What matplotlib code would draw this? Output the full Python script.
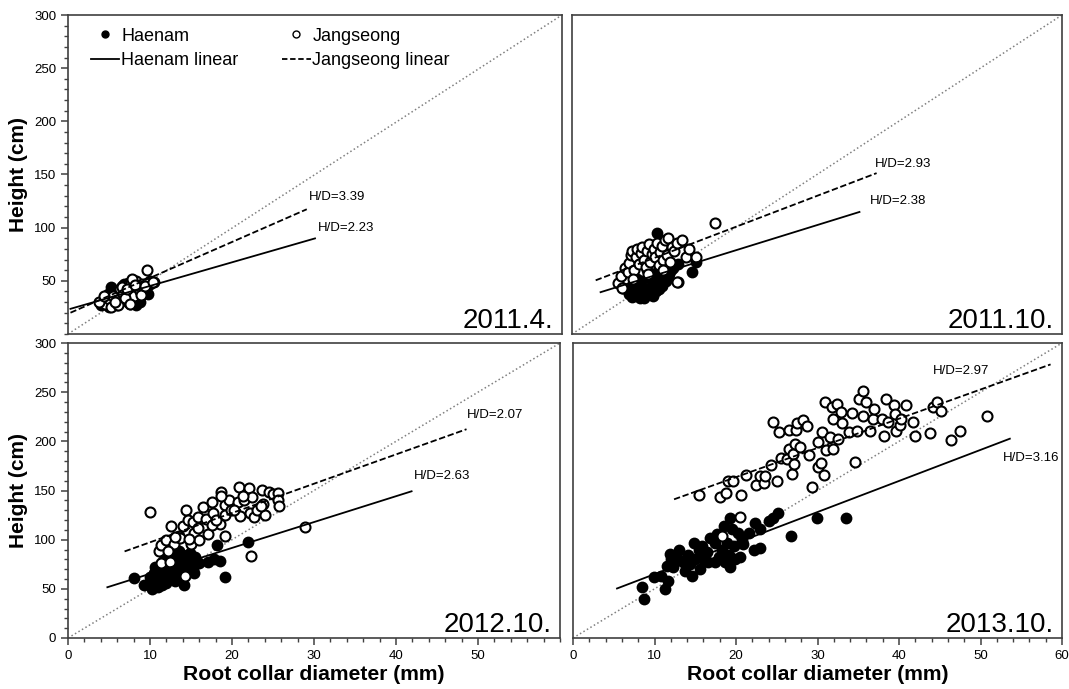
import matplotlib.pyplot as plt
import numpy as np
from matplotlib.lines import Line2D

plt.rcParams['font.family'] = ['Liberation Sans', 'DejaVu Sans']

# 2011.4.
h11a_x = [5.0, 5.5, 6.0, 6.2, 6.5, 6.8, 7.0, 7.2, 7.5, 7.8, 8.0, 8.3, 8.5, 8.8, 9.0,
          9.2, 9.5, 10.0, 10.5, 6.0, 6.5, 7.0, 7.5, 8.0, 8.5, 9.0, 5.8, 7.3, 8.2, 9.7,
          4.0, 4.6, 5.2, 4.8]
h11a_y = [25, 28, 30, 40, 45, 47, 33, 38, 42, 30, 35, 32, 45, 30, 38,
          40, 42, 47, 49, 27, 35, 43, 28, 40, 33, 45, 32, 48, 27, 38,
          27, 33, 44, 38]
j11a_x = [4.5, 5.0, 5.5, 6.0, 6.3, 6.7, 7.0, 7.3, 7.6, 8.0, 8.3, 8.6, 9.0, 9.3, 9.6,
          10.0, 5.2, 6.1, 6.9, 7.8, 8.7, 9.6, 5.7, 7.5, 8.9, 6.5, 7.2, 8.1, 9.4, 10.3,
          3.8, 4.4]
j11a_y = [28, 33, 36, 32, 42, 38, 45, 30, 48, 36, 50, 42, 47, 44, 60,
          50, 25, 27, 34, 52, 40, 48, 30, 28, 37, 44, 42, 46, 45, 49,
          30, 36]

# 2011.10.
h11b_x = [7.0, 7.3, 7.6, 7.9, 8.2, 8.5, 8.8, 9.1, 9.4, 9.7, 10.0, 10.3, 10.6, 10.9, 11.2,
          11.5, 11.8, 12.1, 12.4, 7.5, 8.0, 8.6, 9.2, 9.8, 10.4, 11.0, 11.6, 12.2, 8.3, 9.5,
          10.7, 11.9, 10.4, 14.7, 15.2, 8.8, 9.9, 13.0]
h11b_y = [38, 35, 45, 40, 36, 50, 42, 38, 55, 44, 48, 40, 52, 46, 58,
          50, 55, 60, 62, 48, 52, 44, 60, 50, 58, 45, 62, 65, 34, 38,
          42, 56, 95, 58, 68, 34, 36, 66]
j11b_x = [5.6, 6.0, 6.2, 6.5, 6.8, 7.0, 7.2, 7.4, 7.6, 7.8, 8.0, 8.2, 8.4, 8.6, 8.8,
          9.0, 9.2, 9.4, 9.6, 9.8, 10.0, 10.2, 10.4, 10.6, 10.8, 11.0, 11.2, 11.4, 11.6, 11.8,
          12.0, 12.2, 12.5, 12.8, 13.0, 13.5, 14.0, 14.3, 15.2, 17.5, 6.1, 12.9, 7.5, 9.3, 11.1]
j11b_y = [48, 55, 43, 62, 58, 67, 74, 78, 60, 72, 80, 66, 76, 82, 70,
          63, 78, 85, 68, 75, 80, 72, 86, 65, 77, 83, 70, 88, 74, 90,
          68, 82, 78, 86, 49, 88, 72, 80, 72, 104, 43, 49, 52, 56, 60]

# 2012.10.
h12_x = [8.0, 9.3, 9.7, 10.0, 10.2, 10.5, 10.8, 11.0, 11.2, 11.4, 11.6, 11.8, 12.0, 12.2, 12.4,
         12.6, 12.8, 13.0, 13.2, 13.4, 13.6, 13.8, 14.0, 14.1, 14.3, 14.5, 14.7, 14.9, 15.1, 15.3,
         15.5, 10.6, 11.5, 12.3, 13.1, 13.9, 14.6, 15.4, 16.0, 17.1, 17.8, 18.2, 18.5, 19.1, 22.0,
         10.4, 11.9, 12.9, 13.5, 14.2]
h12_y = [61, 54, 55, 62, 50, 66, 58, 52, 72, 60, 78, 66, 56, 70, 82,
         62, 74, 58, 86, 68, 78, 64, 84, 54, 72, 80, 68, 86, 76, 70,
         82, 72, 54, 64, 76, 60, 74, 66, 76, 77, 80, 95, 78, 62, 98,
         56, 84, 68, 88, 80]
j12_x = [10.0, 11.1, 11.3, 11.9, 12.5, 12.9, 13.5, 14.0, 14.4, 14.6, 15.0, 15.3, 15.4, 15.8, 16.5,
         16.8, 17.1, 17.6, 17.7, 18.5, 18.7, 19.1, 19.2, 19.2, 19.6, 20.8, 20.7, 21.0, 21.5, 22.1,
         22.2, 22.5, 22.7, 23.0, 23.6, 23.8, 24.0, 24.5, 25.0, 25.6, 25.6, 25.7, 22.3, 28.9, 14.3,
         11.3, 12.4, 13.6, 16.0, 17.5, 18.6, 19.9, 21.3, 23.5, 20.2, 14.8, 13.0, 12.2, 15.9, 18.1]
j12_y = [128, 88, 95, 100, 114, 96, 104, 114, 130, 120, 96, 118, 107, 123, 133,
         121, 106, 138, 127, 116, 148, 135, 104, 125, 140, 154, 138, 124, 140, 153,
         127, 143, 123, 130, 151, 136, 125, 148, 146, 147, 140, 134, 83, 113, 63,
         76, 77, 102, 100, 115, 144, 130, 144, 134, 130, 101, 103, 88, 112, 120]

# 2013.10.
h13_x = [8.5, 8.7, 9.9, 10.8, 11.3, 11.6, 11.5, 11.9, 12.0, 12.3, 12.9, 13.0, 13.5, 13.8, 14.1,
         14.4, 14.6, 14.8, 15.0, 15.4, 15.6, 16.0, 16.4, 16.6, 16.8, 17.4, 17.7, 17.9, 18.3, 18.5,
         18.7, 18.9, 19.3, 19.3, 19.5, 19.7, 19.9, 20.3, 20.5, 20.9, 21.6, 22.2, 22.3, 23.0, 22.9,
         24.0, 24.5, 25.1, 26.7, 29.9, 33.5, 20.7, 19.1, 17.4, 15.8]
h13_y = [52, 40, 62, 63, 50, 58, 73, 85, 80, 72, 80, 90, 77, 68, 84,
         75, 63, 97, 80, 89, 70, 80, 87, 77, 102, 97, 106, 82, 90, 114,
         77, 97, 72, 122, 111, 94, 80, 107, 82, 96, 107, 90, 117, 92, 111,
         119, 122, 127, 104, 122, 122, 100, 84, 77, 94]
j13_x = [15.5, 18.0, 18.8, 19.0, 19.6, 20.6, 21.2, 22.5, 23.0, 23.4, 23.5, 24.5, 25.0, 24.3, 25.3,
         25.5, 26.2, 26.5, 26.5, 26.9, 27.0, 27.1, 27.3, 27.4, 27.5, 27.8, 28.2, 28.7, 29.0, 29.3,
         30.1, 30.1, 30.4, 30.5, 30.8, 30.9, 31.1, 31.5, 31.8, 31.9, 31.9, 32.4, 32.5, 32.9, 33.0,
         33.9, 34.2, 34.6, 34.9, 35.1, 35.6, 35.6, 35.9, 36.4, 36.8, 36.9, 37.9, 38.1, 38.4, 38.7,
         39.4, 39.5, 39.6, 40.1, 40.2, 40.9, 41.7, 42.0, 43.8, 44.2, 44.7, 45.2, 46.4, 47.5, 50.8,
         20.5, 18.3]
j13_y = [145, 143, 147, 160, 160, 145, 166, 156, 165, 158, 165, 220, 160, 176, 210,
         183, 182, 212, 192, 167, 187, 177, 197, 212, 219, 194, 222, 216, 186, 154,
         199, 174, 178, 210, 166, 240, 191, 204, 235, 223, 192, 238, 202, 230, 219,
         209, 229, 179, 211, 243, 251, 226, 240, 211, 223, 233, 223, 205, 243, 220,
         237, 228, 211, 217, 223, 237, 220, 205, 208, 235, 240, 231, 201, 211, 226,
         123, 104]

# lineas ajustadas: intercepto, pendiente, x inicio, x fin
h_fit = [(23, 2.23, 0.3, 30.0), (31, 2.38, 3.5, 35.2), (39, 2.63, 4.8, 41.9), (33.3, 3.16, 5.4, 53.6)]
j_fit = [(19, 3.39, 0.3, 29.0), (42, 2.93, 2.9, 37.3), (67.5, 2.98, 6.9, 48.6), (104.2, 2.97, 12.4, 58.6)]

# etiquetas H/D: texto, x, y
h_lab = [('H/D=2.23', 30.3, 100), ('H/D=2.38', 36.5, 125), ('H/D=2.63', 42.2, 165), ('H/D=3.16', 52.8, 183)]
j_lab = [('H/D=3.39', 29.3, 129), ('H/D=2.93', 37.1, 160), ('H/D=2.07', 48.6, 227), ('H/D=2.97', 44.2, 272)]

fechas = ['2011.4.', '2011.10.', '2012.10.', '2013.10.']
puntos = [(h11a_x, h11a_y, j11a_x, j11a_y), (h11b_x, h11b_y, j11b_x, j11b_y),
          (h12_x, h12_y, j12_x, j12_y), (h13_x, h13_y, j13_x, j13_y)]

fig = plt.figure(figsize=(10.69, 6.89), dpi=100)
W, H = 1069, 689
# posiciones de los paneles en pixeles (izq, der, arriba, abajo)
cajas = [(68, 562, 15, 334), (572, 1062, 15, 334), (68, 560, 343, 638), (573, 1062, 343, 638)]
axes = []
for (l, r, t, b) in cajas:
    axes.append(fig.add_axes([l / W, (H - b) / H, (r - l) / W, (b - t) / H]))

for i, ax in enumerate(axes):
    hx, hy, jx, jy = puntos[i]
    ax.plot([0, 60], [0, 300], color='gray', ls=':', lw=1.1, zorder=1)
    ax.plot(hx, hy, 'o', ms=7.2, mfc='black', mec='black', mew=1.3, ls='none', zorder=2)
    ax.plot(jx, jy, 'o', ms=7.2, mfc='white', mec='black', mew=1.5, ls='none', zorder=3)
    a, b, x0, x1 = h_fit[i]
    xs = np.array([x0, x1])
    ax.plot(xs, a + b * xs, color='black', lw=1.3, zorder=4)
    a, b, x0, x1 = j_fit[i]
    xs = np.array([x0, x1])
    ax.plot(xs, a + b * xs, color='black', lw=1.3, ls=(0, (3.5, 1.5)), zorder=4)
    for txt, tx, ty in [h_lab[i], j_lab[i]]:
        ax.text(tx, ty, txt, fontsize=9.5, ha='left', va='center')
    ax.text(0.983, 0.02, fechas[i], transform=ax.transAxes, fontsize=20,
            ha='right', va='baseline')
    ax.set_xlim(0, 60)
    ax.set_ylim(0, 300)
    for s in ax.spines.values():
        s.set_color('#404040')
        s.set_linewidth(1.2)
    ax.set_xticks(np.arange(0, 61, 10))
    ax.set_xticks(np.arange(0, 61, 2), minor=True)
    ax.set_yticks(np.arange(0, 301, 50))
    ax.set_yticks(np.arange(0, 301, 10), minor=True)
    ax.tick_params(which='major', direction='out', length=5, width=1.1, color='#404040',
                   labelsize=9.5)
    ax.tick_params(which='minor', direction='out', length=3, width=1.0, color='#404040')

# ejes sin marcas segun panel
axes[0].tick_params(axis='x', which='both', bottom=False, labelbottom=False)
axes[0].set_yticks(np.arange(50, 301, 50))
axes[1].tick_params(axis='both', which='both', bottom=False, left=False,
                    labelbottom=False, labelleft=False)
axes[2].set_xticks(np.arange(0, 51, 10))
axes[3].tick_params(axis='y', which='both', left=False, labelleft=False)

for ax in (axes[0], axes[2]):
    ax.set_ylabel('Height (cm)', fontsize=15, fontweight='bold', labelpad=4)
for ax in (axes[2], axes[3]):
    ax.set_xlabel('Root collar diameter (mm)', fontsize=15.2, fontweight='bold', labelpad=2)

# leyenda
manejos = [Line2D([], [], marker='o', ls='none', ms=5, mfc='black', mec='black'),
           Line2D([], [], color='black', lw=1.3),
           Line2D([], [], marker='o', ls='none', ms=5, mfc='white', mec='black'),
           Line2D([], [], color='black', lw=1.3, ls=(0, (3, 1.5)))]
nombres = ['Haenam', 'Haenam linear', 'Jangseong', 'Jangseong linear']
axes[0].legend(manejos, nombres, ncol=2, loc='upper left', frameon=False, fontsize=13,
               handlelength=1.6, handletextpad=0.1, columnspacing=2.4, labelspacing=0.4,
               borderaxespad=0.3, bbox_to_anchor=(0.02, 1.0))

fig.savefig('out.png', dpi=100)
